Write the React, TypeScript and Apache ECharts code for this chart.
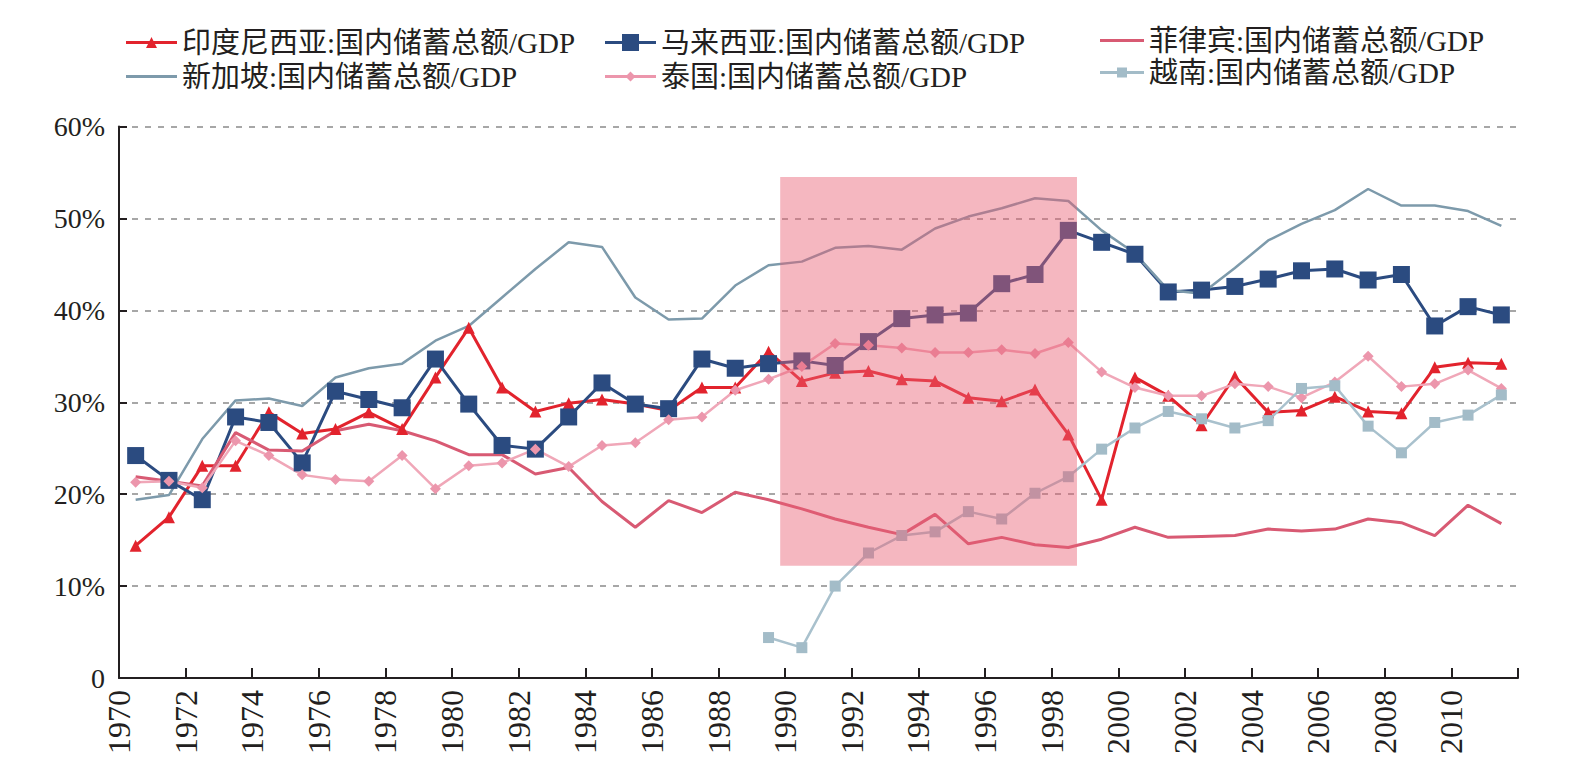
import React, { useEffect, useRef } from "react";
import * as echarts from "echarts";

const years = [
  1970, 1971, 1972, 1973, 1974, 1975, 1976, 1977, 1978, 1979,
  1980, 1981, 1982, 1983, 1984, 1985, 1986, 1987, 1988, 1989,
  1990, 1991, 1992, 1993, 1994, 1995, 1996, 1997, 1998, 1999,
  2000, 2001, 2002, 2003, 2004, 2005, 2006, 2007, 2008, 2009,
  2010, 2011,
];

const indonesia = [
  14.4, 17.5, 23.1, 23.1, 28.9, 26.6, 27.1, 28.9, 27.1, 32.7,
  38.1, 31.6, 29.0, 29.9, 30.3, 29.8, 29.1, 31.6, 31.6, 35.5,
  32.3, 33.2, 33.4, 32.5, 32.3, 30.5, 30.1, 31.4, 26.5, 19.4,
  32.7, 30.7, 27.5, 32.8, 28.9, 29.1, 30.6, 29.0, 28.8, 33.8,
  34.3, 34.2,
];
const malaysia = [
  24.2, 21.5, 19.4, 28.4, 27.8, 23.4, 31.2, 30.3, 29.4, 34.7,
  29.8, 25.3, 24.9, 28.4, 32.1, 29.8, 29.3, 34.7, 33.7, 34.2,
  34.5, 34.0, 36.6, 39.1, 39.5, 39.7, 42.9, 43.9, 48.7, 47.4,
  46.1, 42.0, 42.2, 42.6, 43.4, 44.3, 44.5, 43.3, 43.9, 38.3,
  40.4, 39.5,
];
const philippines = [
  21.9, 21.4, 20.9, 26.7, 24.8, 24.7, 26.9, 27.6, 26.9, 25.8,
  24.3, 24.3, 22.2, 22.9, 19.2, 16.4, 19.3, 18.0, 20.2, 19.4,
  18.4, 17.3, 16.4, 15.6, 17.8, 14.6, 15.3, 14.5, 14.2, 15.1,
  16.4, 15.3, 15.4, 15.5, 16.2, 16.0, 16.2, 17.3, 16.9, 15.5,
  18.8, 16.8,
];
const singapore = [
  19.4, 19.9, 26.0, 30.2, 30.4, 29.6, 32.7, 33.7, 34.2, 36.7,
  38.3, 41.4, 44.5, 47.4, 46.9, 41.4, 39.0, 39.1, 42.7, 44.9,
  45.3, 46.8, 47.0, 46.6, 48.9, 50.2, 51.1, 52.2, 51.9, 48.7,
  46.2, 42.2, 41.8, 44.6, 47.6, 49.4, 50.9, 53.2, 51.4, 51.4,
  50.8, 49.2,
];
const thailand = [
  21.3, 21.4, 20.7, 25.8, 24.2, 22.1, 21.6, 21.4, 24.2, 20.6,
  23.1, 23.4, 24.9, 23.0, 25.3, 25.6, 28.1, 28.4, 31.3, 32.5,
  33.9, 36.4, 36.2, 35.9, 35.4, 35.4, 35.7, 35.3, 36.5, 33.3,
  31.6, 30.7, 30.7, 32.0, 31.7, 30.5, 32.2, 35.0, 31.7, 32.0,
  33.5, 31.5,
];
const vietnam = [
  null, null, null, null, null, null, null, null, null, null,
  null, null, null, null, null, null, null, null, null, 4.4,
  3.3, 10.0, 13.6, 15.5, 15.9, 18.1, 17.3, 20.1, 21.9, 24.9,
  27.2, 29.0, 28.2, 27.2, 28.0, 31.5, 31.8, 27.4, 24.5, 27.8,
  28.6, 30.8,
];

const seriesNames = [
  "印度尼西亚:国内储蓄总额/GDP",
  "马来西亚:国内储蓄总额/GDP",
  "菲律宾:国内储蓄总额/GDP",
  "新加坡:国内储蓄总额/GDP",
  "泰国:国内储蓄总额/GDP",
  "越南:国内储蓄总额/GDP",
];

const xTickLabels = [
  "1970", "1972", "1974", "1976", "1978", "1980", "1982", "1984", "1986", "1988",
  "1990", "1992", "1994", "1996", "1998", "2000", "2002", "2004", "2006", "2008", "2010",
];
const yTickLabels = ["0", "10%", "20%", "30%", "40%", "50%", "60%"];

// highlighted period (x in years, y in %)
const shadeX = [1989.85, 1998.76];
const shadeY = [12.2, 54.5];

const FONT = '"Liberation Serif", "Noto Sans CJK SC", serif';

const toPoints = (vals: (number | null)[]) =>
  years.map((y, i) => [y + 0.5, vals[i]]);

const iconLine = (w: number) => `M0,8.5 L${w},8.5 L${w},11.5 L0,11.5 Z`;
const iconTri = (w: number, s: number) => {
  const c = w / 2;
  return `${iconLine(w)} M${c},${10 - s / 2} L${c + s / 2},${10 + s / 2} L${c - s / 2},${10 + s / 2} Z`;
};
const iconSquare = (w: number, s: number) => {
  const c = w / 2;
  return `${iconLine(w)} M${c - s / 2},${10 - s / 2} L${c + s / 2},${10 - s / 2} L${c + s / 2},${10 + s / 2} L${c - s / 2},${10 + s / 2} Z`;
};
const iconDiamond = (w: number, s: number) => {
  const c = w / 2;
  return `${iconLine(w)} M${c},${10 - s / 2} L${c + s / 2},10 L${c},${10 + s / 2} L${c - s / 2},10 Z`;
};

export default function App() {
  const ref = useRef<HTMLDivElement>(null);

  useEffect(() => {
    if (!ref.current) return;
    const chart = echarts.init(ref.current, undefined, { renderer: "svg" });

    const legendBase = {
      orient: "vertical" as const,
      padding: 0,
      selectedMode: false,
      itemHeight: 20,
      textStyle: { fontSize: 29, fontFamily: FONT, color: "#231f20" },
      itemStyle: { borderWidth: 0 },
    };

    const option: any = {
      animation: false,
      backgroundColor: "#ffffff",
      grid: { left: 119, right: 68, top: 126.5, bottom: 88, containLabel: false },
      legend: [
        {
          ...legendBase,
          left: 126,
          top: 28,
          itemGap: 5,
          itemWidth: 51,
          data: [
            { name: seriesNames[0], icon: "path://" + iconTri(51, 11) },
            { name: seriesNames[3], icon: "path://" + iconLine(51) },
          ],
        },
        {
          ...legendBase,
          left: 605,
          top: 28,
          itemGap: 5,
          itemWidth: 51,
          data: [
            { name: seriesNames[1], icon: "path://" + iconSquare(51, 17) },
            { name: seriesNames[4], icon: "path://" + iconDiamond(51, 10) },
          ],
        },
        {
          ...legendBase,
          left: 1100,
          top: 26,
          itemGap: 3,
          itemWidth: 44,
          data: [
            { name: seriesNames[2], icon: "path://" + iconLine(44) },
            { name: seriesNames[5], icon: "path://" + iconSquare(44, 10) },
          ],
        },
      ],
      xAxis: {
        type: "value",
        min: 1970,
        max: 2012,
        interval: 2,
        axisLine: { show: true, onZero: false, lineStyle: { color: "#231f20", width: 2 } },
        axisTick: { show: true, inside: true, length: 10, lineStyle: { color: "#231f20", width: 2 } },
        axisLabel: {
          rotate: 90,
          margin: 12,
          fontSize: 32,
          fontFamily: FONT,
          color: "#231f20",
          formatter: (v: number) => {
            const i = Math.round((v - 1970) / 2);
            return xTickLabels[i] ?? "";
          },
        },
        splitLine: { show: false },
      },
      yAxis: {
        type: "value",
        min: 0,
        max: 60,
        interval: 10,
        axisLine: { show: true, lineStyle: { color: "#231f20", width: 2 } },
        axisTick: { show: true, inside: true, length: 8, lineStyle: { color: "#231f20", width: 2 } },
        axisLabel: {
          margin: 14,
          fontSize: 28,
          fontFamily: FONT,
          color: "#231f20",
          formatter: (v: number) => yTickLabels[Math.round(v / 10)] ?? "",
        },
        splitLine: {
          show: true,
          lineStyle: { color: "#8a8a8a", width: 1.5, type: [6, 7] },
        },
      },
      series: [
        {
          name: seriesNames[0],
          type: "line",
          data: toPoints(indonesia),
          symbol: "triangle",
          symbolSize: 12,
          color: "#e2232d",
          lineStyle: { width: 3, color: "#e2232d" },
          itemStyle: { color: "#e2232d" },
        },
        {
          name: seriesNames[1],
          type: "line",
          data: toPoints(malaysia),
          symbol: "rect",
          symbolSize: 17,
          color: "#2b4b80",
          lineStyle: { width: 3, color: "#2b4b80" },
          itemStyle: { color: "#2b4b80" },
        },
        {
          name: seriesNames[2],
          type: "line",
          data: toPoints(philippines),
          showSymbol: false,
          symbol: "none",
          color: "#d85a73",
          lineStyle: { width: 3, color: "#d85a73" },
        },
        {
          name: seriesNames[3],
          type: "line",
          data: toPoints(singapore),
          showSymbol: false,
          symbol: "none",
          color: "#7d9aab",
          lineStyle: { width: 2.5, color: "#7d9aab" },
        },
        {
          name: seriesNames[4],
          type: "line",
          data: toPoints(thailand),
          symbol: "diamond",
          symbolSize: 11,
          color: "#eea0b3",
          lineStyle: { width: 2.5, color: "#f0a7b8" },
          itemStyle: { color: "#ec96ac" },
        },
        {
          name: seriesNames[5],
          type: "line",
          data: toPoints(vietnam),
          symbol: "rect",
          symbolSize: 11,
          color: "#a6bfcb",
          lineStyle: { width: 2.5, color: "#a9c1cd" },
          itemStyle: { color: "#a3bcc8" },
        },
        {
          name: "shade",
          type: "line",
          data: [],
          z: 10,
          markArea: {
            z: 10,
            silent: true,
            itemStyle: { color: "rgba(232,96,115,0.45)" },
            data: [[
              { xAxis: shadeX[0], yAxis: shadeY[0] },
              { xAxis: shadeX[1], yAxis: shadeY[1] },
            ]],
          },
        },
      ],
    };

    chart.setOption(option);
    return () => chart.dispose();
  }, []);

  return (
    <div
      ref={ref}
      style={{ position: "fixed", left: 0, top: 0, width: 1586, height: 766, background: "#fff" }}
    />
  );
}
